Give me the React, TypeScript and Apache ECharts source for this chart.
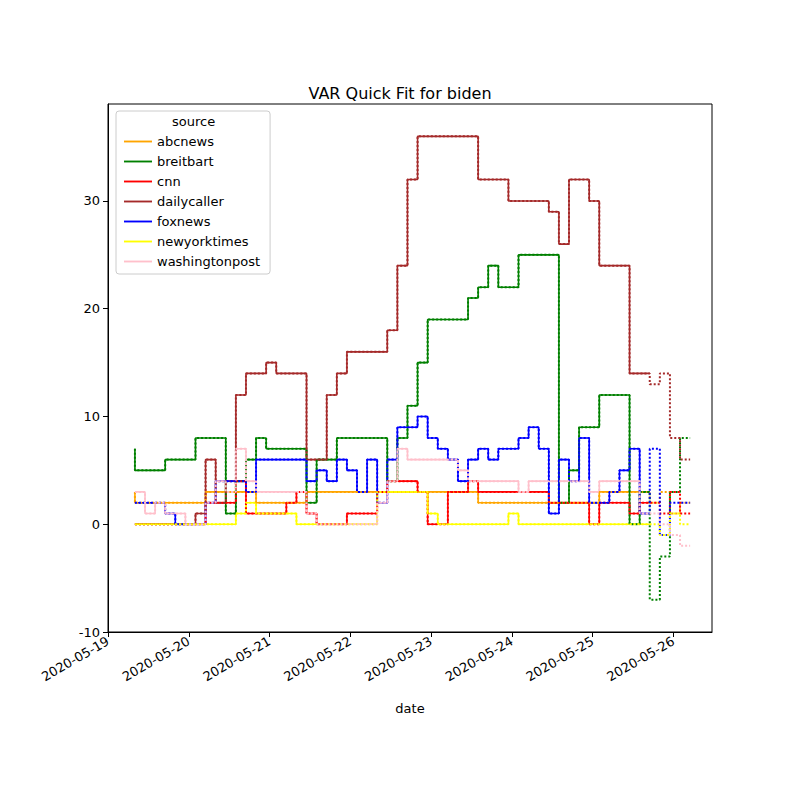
import { useEffect, useRef } from "react";
import * as echarts from "echarts";

const sources = ["abcnews", "breitbart", "cnn", "dailycaller", "foxnews", "newyorktimes", "washingtonpost"];
const colors = ["orange", "green", "red", "brown", "blue", "yellow", "pink"];

// observed values every 3 hours from 2020-05-19 08:00 UTC
const abcnews = [3,2,2,2,2,2,2,2,3,3,3,3,3,2,2,2,2,2,3,3,3,3,3,3,3,3,3,3,3,3,3,3,3,3,3,2,2,2,2,2,2,2,2,2,2,2,2,3,3,3,3,3];
const breitbart = [7,5,5,5,6,6,6,8,8,8,1,4,6,8,7,7,7,7,2,6,6,8,8,8,8,8,4,8,11,15,19,19,19,19,21,22,24,22,22,25,25,25,25,2,5,9,9,12,12,12,0,3];
const cnn = [0,0,0,0,0,0,0,0,2,2,2,4,1,1,1,1,2,3,1,0,0,0,1,1,1,3,4,4,4,3,0,0,3,3,4,3,3,3,3,3,3,3,2,2,2,2,0,2,2,2,1,2];
const dailycaller = [0,0,0,0,0,0,0,1,6,2,4,12,14,14,15,14,14,14,6,6,12,14,16,16,16,16,18,24,32,36,36,36,36,36,36,32,32,32,30,30,30,30,29,26,32,32,30,24,24,24,14,14];
const foxnews = [2,2,2,2,1,0,0,0,2,4,4,4,3,6,6,6,6,6,4,5,4,6,5,3,6,2,6,9,9,10,8,7,6,4,6,7,6,7,7,8,9,7,1,6,4,8,2,2,3,5,7,1];
const newyorktimes = [0,0,0,0,0,0,0,0,0,0,0,1,2,1,1,1,1,0,0,0,0,0,0,0,0,3,3,3,3,3,1,0,0,0,0,0,0,0,1,0,0,0,0,0,0,0,0,0,0,0,0,0];
const washingtonpost = [3,3,1,2,1,1,0,0,2,4,3,7,4,3,3,3,3,3,1,0,0,0,0,0,0,2,4,7,6,6,6,6,6,5,4,4,4,4,4,3,4,4,4,4,4,4,3,4,4,4,4,1];

// forecast tails after the observed data
const abcnewsTail = [2, 3, 1, 2];
const breitbartTail = [-7, -3, 3, 8];
const cnnTail = [2, 1, 3, 1];
const dailycallerTail = [13, 14, 8, 6];
const foxnewsTail = [7, -1, 2, 2];
const newyorktimesTail = [0, -1, 1, 0];
const washingtonpostTail = [1, 0, -1, -2];

const observed = [abcnews, breitbart, cnn, dailycaller, foxnews, newyorktimes, washingtonpost];
const tails = [abcnewsTail, breitbartTail, cnnTail, dailycallerTail, foxnewsTail, newyorktimesTail, washingtonpostTail];

const start = Date.UTC(2020, 4, 19, 8);
const step = 3 * 3600 * 1000;

export default function App() {
  const chartRef = useRef<HTMLDivElement>(null);

  useEffect(() => {
    if (!chartRef.current) return;
    const chart = echarts.init(chartRef.current, undefined, { renderer: "svg" });

    const series: any[] = [];
    sources.forEach((name, k) => {
      const obs = observed[k];
      const fit = [...obs, ...tails[k]];
      series.push({
        name,
        type: "line",
        symbol: "none",
        step: "start",
        data: fit.map((v, i) => [start + step * i, v]),
        lineStyle: { color: colors[k], type: "dotted", width: 2 },
        itemStyle: { color: colors[k] },
        z: 3,
      });
      series.push({
        name: name + "_actual",
        type: "line",
        symbol: "none",
        step: "start",
        data: obs.map((v, i) => [start + step * i, v]),
        lineStyle: { color: colors[k], width: 1.6 },
        itemStyle: { color: colors[k] },
        z: 2,
      });
    });

    chart.setOption({
      animation: false,
      title: {
        text: "VAR Quick Fit for biden",
        left: "center",
        top: 72,
        textStyle: { fontSize: 16, fontWeight: "normal", color: "#000", fontFamily: "DejaVu Sans" },
      },
      legend: {
        data: sources,
        orient: "vertical",
        left: 108,
        top: 103,
        padding: [24, 10, 6, 8],
        itemGap: 7,
        itemWidth: 28,
        itemHeight: 8,
        icon: "path://M0,4 L30,4 L30,6 L0,6 Z",
        borderColor: "#ccc",
        borderWidth: 1,
        borderRadius: 3,
        backgroundColor: "rgba(255,255,255,0.8)",
        textStyle: { fontSize: 13, color: "#000", fontFamily: "DejaVu Sans" },
      },
      graphic: [
        {
          type: "text",
          left: 164,
          top: 107,
          style: { text: "source", fontSize: 13, fill: "#000", fontFamily: "DejaVu Sans" },
          z: 100,
        },
      ],
      grid: { left: 100, right: 80, top: 96, bottom: 160, show: true, borderColor: "#000", borderWidth: 1 },
      xAxis: {
        type: "time",
        min: Date.UTC(2020, 4, 19),
        max: Date.UTC(2020, 4, 26, 11, 30),
        interval: 86400000,
        name: "date",
        nameLocation: "middle",
        nameGap: 70,
        nameTextStyle: { fontSize: 13, color: "#000", fontFamily: "DejaVu Sans" },
        axisLine: { onZero: false, lineStyle: { color: "#000" } },
        axisTick: { lineStyle: { color: "#000" } },
        splitLine: { show: false },
        axisLabel: {
          rotate: 30,
          color: "#000",
          fontSize: 13,
          fontFamily: "DejaVu Sans",
          showMaxLabel: false,
          formatter: (v: number) => {
            const d = new Date(v);
            const mm = String(d.getUTCMonth() + 1).padStart(2, "0");
            const dd = String(d.getUTCDate()).padStart(2, "0");
            return `${d.getUTCFullYear()}-${mm}-${dd}`;
          },
        },
      },
      yAxis: {
        type: "value",
        min: -10,
        max: 39,
        interval: 10,
        axisLine: { show: true, lineStyle: { color: "#000" } },
        axisTick: { show: true, lineStyle: { color: "#000" } },
        splitLine: { show: false },
        axisLabel: { color: "#000", fontSize: 13, fontFamily: "DejaVu Sans", showMaxLabel: false },
      },
      series,
    });

    return () => chart.dispose();
  }, []);

  return <div ref={chartRef} style={{ width: 784, height: 784 }} />;
}
